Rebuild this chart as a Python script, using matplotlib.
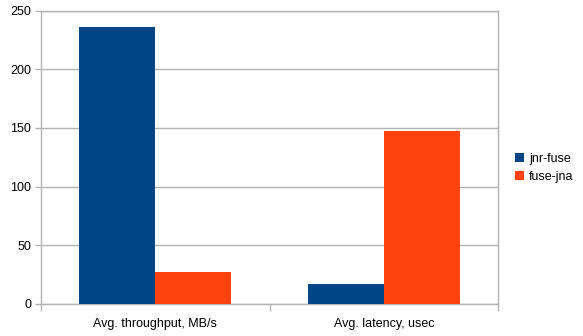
import matplotlib
matplotlib.use("Agg")
import matplotlib.pyplot as plt
import numpy as np

categories = ["Avg. throughput, MB/s", "Avg. latency, usec"]
series_names = ["jnr-fuse", "fuse-jna"]
jnr_fuse = [236, 17]
fuse_jna = [27, 147]
y_ticks = [0, 50, 100, 150, 200, 250]

colors = ["#004586", "#ff420e"]
grid_color = "#b3b3b3"

plt.rcParams["font.family"] = ["Liberation Sans", "DejaVu Sans"]

W, H = 583, 336
fig = plt.figure(figsize=(W / 100, H / 100), dpi=100)
left, right, top, bottom = 41, 498, 10.5, 304
ax = fig.add_axes([left / W, 1 - bottom / H, (right - left) / W, (bottom - top) / H])

x = np.arange(len(categories))
bw = 1 / 3
for i, (name, vals) in enumerate(zip(series_names, [jnr_fuse, fuse_jna])):
    ax.bar(x + (i - 0.5) * bw, vals, width=bw, color=colors[i], label=name,
           zorder=3, linewidth=0)

ax.set_xlim(-0.5, len(categories) - 0.5)
ax.set_ylim(0, 250)
ax.set_yticks(y_ticks)
ax.set_xticks([-0.5, 0.5, 1.5])
ax.set_xticklabels([])
ax.set_xticks(x, minor=True)
ax.set_xticklabels(categories, minor=True)
ax.tick_params(axis="x", which="minor", length=0, pad=10, labelsize=9)
ax.tick_params(axis="x", which="major", length=5, width=1, color=grid_color)
ax.tick_params(axis="y", length=4, width=1, color=grid_color, labelsize=9, pad=3)

ax.grid(axis="y", color=grid_color, linewidth=1, zorder=0)
for s in ax.spines.values():
    s.set_color(grid_color)
    s.set_linewidth(1)

ax.legend(loc="center left", bbox_to_anchor=(504 / W, 0.5), bbox_transform=fig.transFigure,
          frameon=False, fontsize=9, handlelength=0.7, handleheight=0.7,
          handletextpad=0.4, labelspacing=0.5)

fig.savefig("out.png", dpi=100)
